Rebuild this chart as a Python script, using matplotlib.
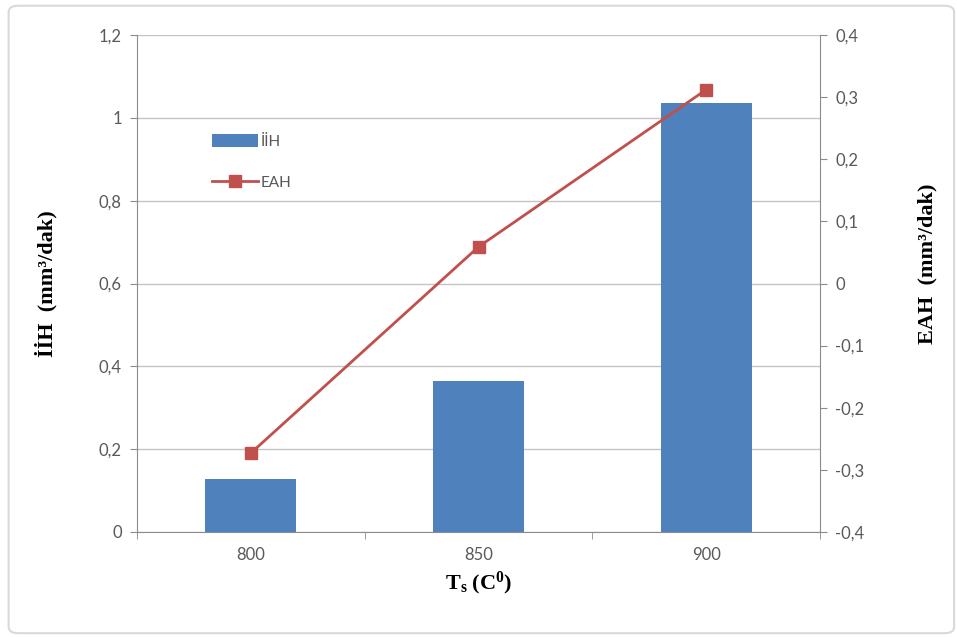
import matplotlib
matplotlib.use("Agg")
import matplotlib.pyplot as plt
from matplotlib.ticker import FixedLocator, FuncFormatter
from matplotlib.patches import FancyBboxPatch, Patch
from matplotlib.lines import Line2D
import numpy as np

plt.rcParams["mathtext.fontset"] = "custom"
plt.rcParams["mathtext.rm"] = "Liberation Serif"
plt.rcParams["mathtext.it"] = "Liberation Serif:italic"
plt.rcParams["mathtext.bf"] = "Liberation Serif:bold"
plt.rcParams["axes.unicode_minus"] = False
plt.rcParams["font.family"] = ["Lato", "DejaVu Sans"]

categories = ["800", "850", "900"]
iih_values = [0.128, 0.365, 1.036]
eah_values = [-0.273, 0.059, 0.312]
left_ticks = [0, 0.2, 0.4, 0.6, 0.8, 1.0, 1.2]
right_ticks = [-0.4, -0.3, -0.2, -0.1, 0, 0.1, 0.2, 0.3, 0.4]

bar_color = "#4F81BD"
line_color = "#C0504D"
axis_gray = "#8C8C8C"
text_gray = "#595959"

fig = plt.figure(figsize=(9.57, 6.37), dpi=100)
border = FancyBboxPatch((0.009, 0.006), 0.988, 0.985, boxstyle="round,pad=0,rounding_size=0.01",
                        transform=fig.transFigure, facecolor="white", edgecolor="#D9D9D9",
                        linewidth=1.5, zorder=-10)
fig.patches.append(border)

ax = fig.add_axes([137/957, 1-532/637, (820-137)/957, (532-35)/637])
ax.set_facecolor("none")
x = np.arange(len(categories))
ax.bar(x, iih_values, width=0.4, color=bar_color, zorder=3)
ax.set_xlim(-0.5, 2.5)
ax.set_ylim(0, 1.2)
ax.yaxis.set_major_locator(FixedLocator(left_ticks))
fmt = FuncFormatter(lambda v, p: ("%g" % round(v, 2)).replace(".", ","))
ax.yaxis.set_major_formatter(fmt)
ax.grid(axis="y", color="#C4C4C4", linewidth=1.0, zorder=0)
ax.set_xticks(x)
ax.set_xticklabels(categories)
ax.set_xticks([-0.5, 0.5, 1.5, 2.5], minor=True)
ax.tick_params(axis="x", which="major", length=0, pad=11, labelsize=12, labelcolor=text_gray)
ax.tick_params(axis="x", which="minor", length=5, color=axis_gray, direction="out")
ax.tick_params(axis="y", length=5, color=axis_gray, direction="out", labelsize=12,
               labelcolor=text_gray, pad=6)
for s in ["top", "right"]:
    ax.spines[s].set_visible(False)
ax.spines["left"].set_color(axis_gray)
ax.spines["bottom"].set_color(axis_gray)

ax2 = ax.twinx()
ax2.plot(x, eah_values, color=line_color, linewidth=2, marker="s", markersize=9,
         markerfacecolor=line_color, markeredgecolor=line_color, zorder=5)
ax2.set_ylim(-0.4, 0.4)
ax2.yaxis.set_major_locator(FixedLocator(right_ticks))
ax2.yaxis.set_major_formatter(fmt)
ax2.tick_params(axis="y", length=5, color=axis_gray, direction="out", labelsize=12,
                labelcolor=text_gray, pad=6)
for s in ["top", "left", "bottom"]:
    ax2.spines[s].set_visible(False)
ax2.spines["right"].set_color(axis_gray)

serif = ["Liberation Serif", "DejaVu Serif"]
ax.set_ylabel("İİH  (mm³/dak)", fontsize=16, fontweight="bold", family=serif, labelpad=30)
ax2.set_ylabel("EAH  (mm³/dak)", fontsize=16, fontweight="bold", family=serif, labelpad=40)
ax2.yaxis.set_label_coords(1.143, 0.54)
ax.set_xlabel(r"$\mathbf{T_s\ (C^0)}$", fontsize=16, labelpad=5)

handles = [Patch(facecolor=bar_color, edgecolor="none"),
           Line2D([0], [0], color=line_color, linewidth=2, marker="s", markersize=9)]
leg = ax.legend(handles, ["İİH", "EAH"], loc="upper left", bbox_to_anchor=(0.09, 0.828),
                frameon=False, fontsize=11, labelcolor=text_gray, handlelength=3.0,
                handleheight=0.9, labelspacing=1.75, handletextpad=0.15)

fig.savefig("out.png", dpi=100)
